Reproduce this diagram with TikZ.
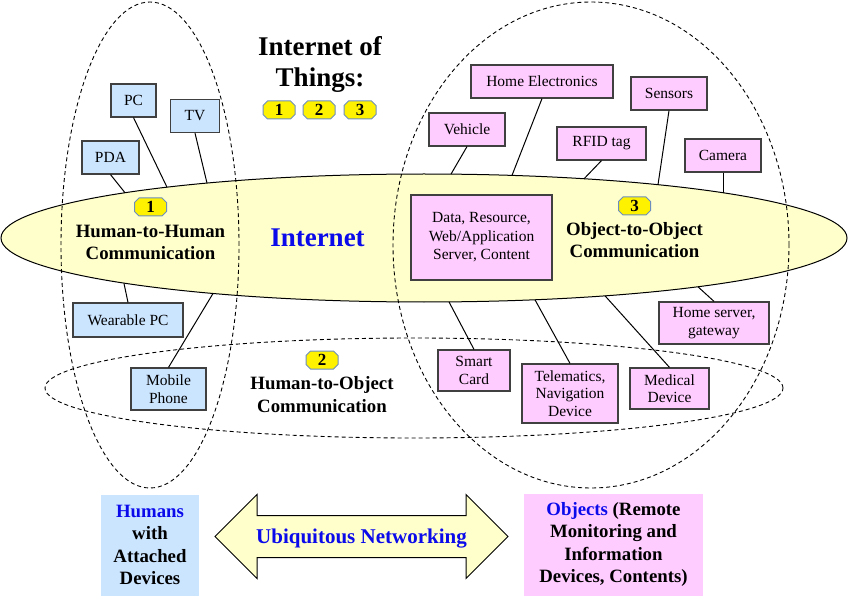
\documentclass[tikz,border=0pt]{standalone}
\usepackage{fontspec}
\setmainfont{Liberation Serif}
\usepackage{tikz}
\usetikzlibrary{positioning, shapes.geometric, shapes.arrows}
\definecolor{humblue}{RGB}{204,229,255}
\definecolor{objpink}{RGB}{255,204,255}
\definecolor{netyellow}{RGB}{255,255,204}
\definecolor{boxline}{RGB}{64,64,64}
\definecolor{badgeline}{RGB}{108,142,191}
\definecolor{netblue}{RGB}{10,10,235}
\tikzstyle{dev1} = [rectangle, draw=boxline, fill=humblue, line width=1.2pt, align=center, inner sep=0pt, minimum height=33pt, font=\fontsize{15.5}{17.5}\selectfont]
\tikzstyle{dev2} = [dev1, fill=objpink]
\tikzstyle{zone} = [ellipse, draw, dash pattern=on 4pt off 3pt, line width=0.9pt, inner sep=0pt]
\tikzstyle{badgetxt} = [minimum width=32pt, minimum height=18pt, inner sep=0pt, font=\bfseries\fontsize{17}{17}\selectfont]
\tikzstyle{lbl} = [align=center, inner sep=0pt, font=\bfseries\fontsize{18.8}{21.5}\selectfont]
\tikzstyle{link} = [line width=1pt]
\newcommand{\badge}[3]{%
  \filldraw[fill=yellow, draw=badgeline, line width=1pt] (#2) ++(-16,-4.5) -- ++(0,9) -- ++(4.5,4.5) -- ++(23,0) -- ++(4.5,-4.5) -- ++(0,-9) -- ++(-4.5,-4.5) -- ++(-23,0) -- cycle;
  \node(#1)[badgetxt] at (#2) {#3};}

\begin{document}
\begin{tikzpicture}[x=1pt, y=-1pt]
\useasboundingbox (0,0) rectangle (849,596);

\node(net)[ellipse, draw, fill=netyellow, line width=1pt, minimum width=846pt, minimum height=128pt, inner sep=0pt] at (424,238) {};

\node(humzone)[zone, minimum width=178pt, minimum height=486pt] at (150,245) {};
\node(objzone)[zone, minimum width=396pt, minimum height=486pt] at (591,245) {};
\node(h2ozone)[zone, minimum width=738pt, minimum height=100pt] at (414,388) {};

\node(iot)[lbl, font=\bfseries\fontsize{27}{31}\selectfont] at (320,64) {Internet of\\Things:};
\badge{t1}{279,110}{1}
\badge{t2}{319,110}{2}
\badge{t3}{360,110}{3}

\node(inetlbl)[lbl, font=\bfseries\fontsize{27}{30}\selectfont, text=netblue] at (317.5,238) {Internet};

\badge{b1}{150.5,207}{1}
\node(h2h)[lbl, below = 9pt of b1] {Human-to-Human\\Communication};
\badge{b2}{322,360}{2}
\node(h2o)[lbl, below = 7.5pt of b2, font=\bfseries\fontsize{18.8}{22.5}\selectfont] {Human-to-Object\\Communication};
\badge{b3}{634.5,206}{3}
\node(o2o)[lbl, below = 7.5pt of b3] {Object-to-Object\\Communication};

\node(pc)[dev1, minimum width=45pt] at (133.5,100.5) {PC};
\node(tv)[dev1, minimum width=49pt] at (195,116) {TV};
\node(pda)[dev1, minimum width=57pt] at (110.5,157.5) {PDA};
\node(wear)[dev1, minimum width=110pt, minimum height=34pt] at (128,320) {Wearable PC};
\node(mobile)[dev1, minimum width=75pt, minimum height=42pt] at (168.5,389) {Mobile\\Phone};

\node(homeel)[dev2, minimum width=142pt] at (542,81.5) {Home Electronics};
\node(sensors)[dev2, minimum width=76pt] at (669,93.5) {Sensors};
\node(vehicle)[dev2, minimum width=76pt] at (467,129.5) {Vehicle};
\node(rfid)[dev2, minimum width=89pt] at (601.5,143.5) {RFID tag};
\node(camera)[dev2, minimum width=76pt] at (723,155.5) {Camera};
\node(server)[dev2, minimum width=141pt, minimum height=85pt, font=\fontsize{15.5}{18.5}\selectfont] at (481.5,237.5) {Data, Resource,\\Web/Application\\Server, Content};
\node(homesrv)[dev2, minimum width=110pt, minimum height=42pt] at (714,323) {Home server,\\gateway};
\node(smart)[dev2, minimum width=72pt, minimum height=41pt] at (474,370.5) {Smart\\Card};
\node(telem)[dev2, minimum width=96pt, minimum height=59pt] at (570,393.5) {Telematics,\\Navigation\\Device};
\node(medical)[dev2, minimum width=79pt, minimum height=41pt] at (669.5,388.5) {Medical\\Device};

\coordinate(pdaend) at (125,192.7);
\coordinate(pcend) at (167,187.2);
\coordinate(tvend) at (207,183.1);
\coordinate(wearend) at (124,283.5);
\coordinate(mobileend) at (213,293.5);
\coordinate(vehicleend) at (451,174.1);
\coordinate(homeelend) at (512,175.4);
\coordinate(rfidend) at (584,178.8);
\coordinate(sensorsend) at (658,184.7);
\coordinate(cameraend) at (723,192.7);
\coordinate(homesrvend) at (698,286.8);
\coordinate(smartend) at (449,301.9);
\coordinate(telemend) at (535,299.8);
\coordinate(medicalend) at (605,295.8);

\foreach \d in {pda, pc, tv, vehicle, homeel, rfid, sensors, camera}
  \draw[link] (\d.south) -- (\d end);
\foreach \d in {wear, mobile, homesrv, smart, telem, medical}
  \draw[link] (\d.north) -- (\d end);

\node(humans)[lbl, fill=humblue, minimum width=98pt, minimum height=101pt, font=\bfseries\fontsize{18.8}{22.5}\selectfont] at (150,545) {\textcolor{netblue}{Humans}\\with\\Attached\\Devices};
\node(objects)[lbl, fill=objpink, minimum width=179pt, minimum height=102pt, font=\bfseries\fontsize{18.8}{22.5}\selectfont] at (613.5,544.5) {\textcolor{netblue}{Objects} (Remote\\Monitoring and\\Information\\Devices, Contents)};
\node(ubi)[double arrow, draw, fill=netyellow, line width=1pt, minimum height=293pt, minimum width=83pt, double arrow head extend=21pt, text height=15pt, text depth=2pt, inner xsep=0pt, inner ysep=12pt, text=netblue, font=\bfseries\fontsize{21}{21}\selectfont] at (361.5,536.5) {Ubiquitous Networking};

\end{tikzpicture}
\end{document}
